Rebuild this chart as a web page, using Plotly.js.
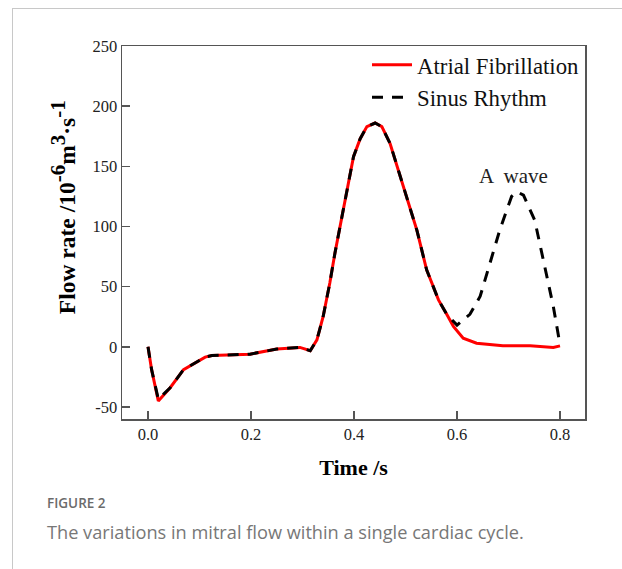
<!DOCTYPE html>
<html>
<head>
<meta charset="utf-8">
<script src="https://cdn.plot.ly/plotly-3.0.1.min.js"></script>
<style>
  html, body { margin: 0; padding: 0; background: #fff; }
  #wrap { position: relative; width: 622px; height: 569px; overflow: hidden; }
  #frame { position: absolute; left: 12px; top: 8px; width: 620px; height: 600px;
           border-top: 1px solid #c8c8c8; border-left: 1px solid #c8c8c8; pointer-events: none; }
  #chart { position: absolute; left: 0; top: 0; width: 622px; height: 569px; }
</style>
</head>
<body>
<div id="wrap">
  <div id="chart"></div>
  <div id="frame"></div>
</div>
<script>
// Atrial Fibrillation (red solid)
const timeAF = [0.000, 0.007, 0.020, 0.043, 0.069, 0.085, 0.111, 0.124, 0.160, 0.198, 0.250, 0.295, 0.315,
                0.328, 0.340, 0.353, 0.363, 0.376, 0.386, 0.399, 0.412, 0.425, 0.441, 0.454, 0.470,
                0.486, 0.502, 0.522, 0.541, 0.564, 0.580, 0.593, 0.612, 0.638, 0.689, 0.742, 0.787, 0.800];
const flowAF = [0, -19, -45, -34, -19, -15, -8.6, -7.2, -6.5, -6.1, -1.9, -0.5, -3.3,
                5.8, 25, 53, 78, 108, 128, 158, 173, 183, 186, 183, 169,
                147, 125, 97, 64, 39, 27, 17, 7.2, 3, 0.8, 0.8, -0.5, 0.8];

// Sinus Rhythm (black dashed) - identical until ~0.6 s, then A wave
const timeSR = [0.000, 0.007, 0.020, 0.043, 0.069, 0.085, 0.111, 0.124, 0.160, 0.198, 0.250, 0.295, 0.315,
                0.328, 0.340, 0.353, 0.363, 0.376, 0.386, 0.399, 0.412, 0.425, 0.441, 0.454, 0.470,
                0.486, 0.502, 0.522, 0.541, 0.564, 0.580, 0.600, 0.625, 0.645, 0.683, 0.706, 0.716,
                0.729, 0.751, 0.768, 0.787, 0.800];
const flowSR = [0, -19, -43.5, -34, -19, -15, -8.6, -7.2, -6.5, -6.1, -1.9, -0.5, -3.3,
                5.8, 25, 53, 78, 108, 128, 158, 173, 183, 186, 183, 169,
                147, 125, 97, 64, 39, 27, 18, 27, 42, 97, 125, 129,
                126, 105, 72, 33.5, 1.7];

const xTicks = [0.0, 0.2, 0.4, 0.6, 0.8];
const xTickText = ["0.0", "0.2", "0.4", "0.6", "0.8"];
const yTicks = [-50, 0, 50, 100, 150, 200, 250];
const yTickText = ["-50", "0", "50", "100", "150", "200", "250"];

const serif = "Liberation Serif, Times New Roman, serif";

const traces = [
  { x: timeAF, y: flowAF, type: "scatter", mode: "lines", name: "Atrial Fibrillation",
    line: { color: "#ff0000", width: 3 } },
  { x: timeSR, y: flowSR, type: "scatter", mode: "lines", name: "Sinus Rhythm",
    line: { color: "#000000", width: 3, dash: "11px,9px" } }
];

const axisCommon = {
  showline: true, linecolor: "#555", linewidth: 1.5, mirror: true,
  ticks: "inside", ticklen: 8, tickwidth: 1.5, tickcolor: "#555",
  showgrid: false, zeroline: false,
  tickfont: { family: serif, size: 16.5, color: "#222" }
};

const sup = s => '<sup><span style="font-size:21px">' + s + '</span></sup>';

const layout = {
  width: 622, height: 569,
  margin: { l: 122, r: 37, t: 46, b: 150 },
  paper_bgcolor: "#fff", plot_bgcolor: "#fff",
  showlegend: true,
  legend: { x: 1, xanchor: "right", y: 1.007, yanchor: "top", bgcolor: "rgba(0,0,0,0)",
            font: { family: serif, size: 22.8, color: "#111" }, itemwidth: 40,
            tracegroupgap: 0 },
  xaxis: Object.assign({}, axisCommon, {
    range: [-0.0505, 0.8485], tickvals: xTicks, ticktext: xTickText,
    title: { text: "<b>Time /s</b>", font: { family: serif, size: 22, color: "#000" }, standoff: 16 }
  }),
  yaxis: Object.assign({}, axisCommon, {
    range: [-60, 250], tickvals: yTicks, ticktext: yTickText
  }),
  annotations: [
    { x: -0.1274, y: 0.568, xref: "paper", yref: "paper", xanchor: "center", yanchor: "middle",
      textangle: -90, showarrow: false,
      text: "<b>Flow rate /10" + sup("-6") + "m" + sup("3") + "·s" + sup("-1") + "</b>",
      font: { family: serif, size: 23.5, color: "#000" } },
    { x: 0.709, y: 142, xref: "x", yref: "y", text: "A  wave", showarrow: false,
      font: { family: serif, size: 21, color: "#222" } },
    { x: -0.166, y: -0.225, xref: "paper", yref: "paper", xanchor: "left", yanchor: "middle",
      text: "FIGURE 2", showarrow: false,
      font: { family: "Open Sans, sans-serif", size: 13.5, color: "#6b6b6b", weight: 600 } },
    { x: -0.166, y: -0.303, xref: "paper", yref: "paper", xanchor: "left", yanchor: "middle",
      text: "The variations in mitral flow within a single cardiac cycle.", showarrow: false,
      font: { family: "Open Sans, sans-serif", size: 18.2, color: "#777" } }
  ]
};

Plotly.newPlot("chart", traces, layout, { displayModeBar: false, staticPlot: true });
</script>
</body>
</html>
